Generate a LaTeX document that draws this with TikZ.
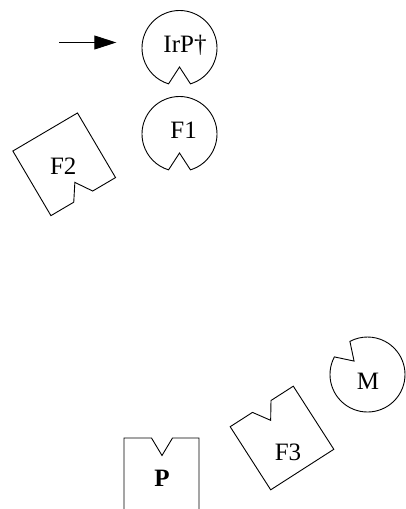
\documentclass[tikz,border=0pt]{standalone}
\usepackage{fontspec}
\setmainfont{Liberation Serif}
\usetikzlibrary{arrows.meta}
\begin{document}
\begin{tikzpicture}[x=1pt,y=1pt,
  outline/.style={draw=black, line width=0.9pt, line join=miter},
  tag/.style={font=\fontsize{25}{30}\selectfont, inner sep=0pt},
  feed/.style={line width=0.9pt, -{Triangle[length=22pt,width=14pt]}},
  % disc with a V-shaped notch pointing in (notch at local bottom)
  notchdisc/.pic={\draw[outline] (-73:37.5) arc[start angle=-73,end angle=253,radius=37.5] -- (0,-19) -- cycle;},
  % square with a V-shaped notch in its local top edge
  notchsquare/.pic={\draw[outline] (-37.5,-37.5) -- (37.5,-37.5) -- (37.5,37.5) -- (11,37.5) -- (0,21) -- (-11,37.5) -- (-37.5,37.5) -- cycle;}
]
\useasboundingbox (0,0) rectangle (405,-509);

% notched discs
\pic at (179.5,-48) {notchdisc};
\pic at (179.5,-134) {notchdisc};
\pic[rotate=225] at (367.5,-374.5) {notchdisc};

% notched squares
\pic[rotate=-149.5] at (64.2,-164.3) {notchsquare};
\pic[rotate=32.7] at (282,-438) {notchsquare};

% open box running off the bottom
\draw[outline] (124,-509) -- (124,-438) -- (151.5,-438) -- (162,-455.5) -- (172.5,-438) -- (199,-438) -- (199,-509);

% labels
\node[circle, minimum size=75pt, inner sep=0pt] (irpdisc) at (179.5,-48) {};
\node[tag] (irp) at (185,-45.5) {IrP†};
\node[tag] (f1) at (183.7,-130) {F1};
\node[tag] (f2) at (63.3,-166.7) {F2};
\node[tag] (f3) at (288,-452) {F3};
\node[tag] (m) at (368,-381.7) {M};
\node[tag, font=\fontsize{25}{30}\selectfont\bfseries] (p) at (162,-478) {P};

% incoming arrow
\coordinate (feedin) at (59,-42.5);
\draw[feed, shorten >=25.5pt] (feedin) -- (feedin -| irpdisc.west);
\end{tikzpicture}
\end{document}
